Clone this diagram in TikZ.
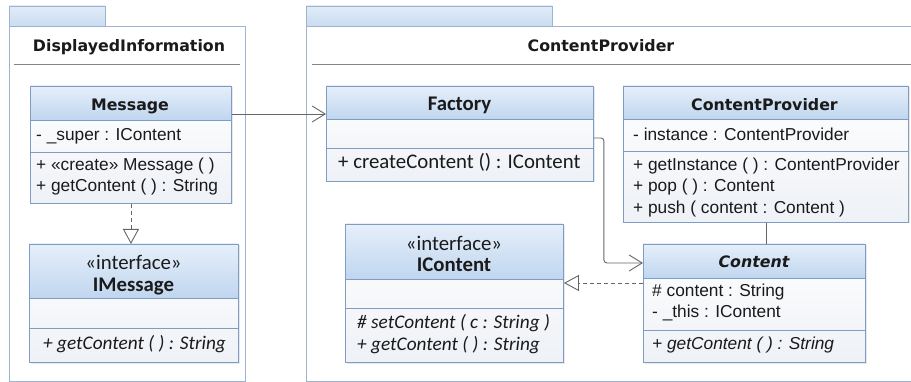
\documentclass[tikz,border=0pt]{standalone}
\usepackage{fontspec}
\setmainfont{Liberation Sans}
\newfontfamily\djv{DejaVu Sans}
\newfontfamily\cbr{Carlito}
\usetikzlibrary{arrows.meta,shadows,calc}
\definecolor{bordc}{HTML}{7F9DC4}
\definecolor{hdtop}{HTML}{E6EFFA}
\definecolor{hdbot}{HTML}{C0D6EF}
\definecolor{bodybot}{HTML}{EEF1F6}
\definecolor{pkbord}{HTML}{9DB3CF}
\definecolor{pktop}{HTML}{E2ECF8}
\definecolor{pkbot}{HTML}{C9DCF1}
\definecolor{linec}{HTML}{666666}
\definecolor{txtc}{HTML}{1A1A1A}
\tikzset{
  bodyfill/.style={top color=white, bottom color=bodybot, drop shadow={opacity=0.18,shadow xshift=1.5pt,shadow yshift=-1.5pt}},
  hdr/.style={top color=hdtop, bottom color=hdbot},
  sepline/.style={draw=bordc, line width=0.9pt},
  clsframe/.style={draw=bordc, line width=0.9pt, inner sep=0pt, fill=none},
  pkframe/.style={draw=pkbord, line width=0.9pt, fill=white},
  pktab/.style={draw=pkbord, line width=0.9pt, top color=pktop, bottom color=pkbot},
  pksep/.style={draw=linec!80, line width=0.8pt},
  ar/.style={inner sep=0pt, text height=0.7em, text depth=0pt, text=txtc, font=\fontsize{17.3}{20}\selectfont},
  ari/.style={ar, font=\fontsize{17.3}{20}\selectfont\itshape},
  bnm/.style={inner sep=0pt, text height=0.72em, text depth=0pt, text=txtc, font=\djv\bfseries\fontsize{15.8}{18}\selectfont},
  bnmi/.style={bnm, font=\djv\bfseries\itshape\fontsize{15.8}{18}\selectfont},
  cb/.style={inner sep=0pt, text height=0.64em, text depth=0pt, text=txtc, font=\cbr\fontsize{20.8}{24}\selectfont},
  cbb/.style={cb, font=\cbr\bfseries\fontsize{20.8}{24}\selectfont},
  cbi/.style={cb, font=\cbr\itshape\fontsize{19.3}{22}\selectfont},
  assoc/.style={draw=linec, line width=0.9pt, -{Straight Barb[length=13pt,width=16pt,line width=0.9pt]}},
  realz/.style={draw=linec, line width=0.9pt, dash pattern=on 4pt off 3pt, -{Triangle[open,length=15pt,width=16pt,fill=white,line width=0.9pt]}},
  plainl/.style={draw=linec, line width=0.9pt}
}
\begin{document}
\begin{tikzpicture}[x=1pt,y=-1pt]
\useasboundingbox (0,0) rectangle (911,382);
\fill[white] (0,0) rectangle (911,382);

% ---------- package DisplayedInformation
\path[pktab] (9,6) rectangle (105,26);
\node[pkframe, minimum width=236pt, minimum height=355pt, anchor=north west] (pkA) at (9,26) {};
\node[bnm] (pkAt) at (129,48) {DisplayedInformation};
\draw[pksep] (14,64) -- (240,64);

% ---------- package ContentProvider
\path[pktab] (306,6) rectangle (552,26);
\node[pkframe, minimum width=610pt, minimum height=355pt, anchor=north west] (pkB) at (306,26) {};
\node[bnm] (pkBt) at (601,48) {ContentProvider};
\draw[pksep] (312,64) -- (916,64);

% ---------- Message
\path[bodyfill] (30,86) rectangle (231,203);
\path[hdr] (30,86) rectangle (231,120);
\draw[sepline] (30,120) -- (231,120);
\draw[sepline] (30,152) -- (231,152);
\node[clsframe, minimum width=201pt, minimum height=117pt, anchor=north west] (msg) at (30,86) {};
\node[bnm] (msgt) at (130,107) {Message};
\node[ar, anchor=west] (msga) at (36,137) {- \_super : IContent};
\node[ar, anchor=west] (msgm1) at (36,167) {+ «create» Message ( )};
\node[ar, anchor=west] (msgm2) at (36,188) {+ getContent ( ) : String};

% ---------- IMessage
\path[bodyfill] (29,244) rectangle (238,362);
\path[hdr] (29,244) rectangle (238,298);
\draw[sepline] (29,298) -- (238,298);
\draw[sepline] (29,328) -- (238,328);
\node[clsframe, minimum width=209pt, minimum height=118pt, anchor=north west] (imsg) at (29,244) {};
\node[cb] (imsgs) at (133.5,266) {«interface»};
\node[cbb] (imsgt) at (133.5,288) {IMessage};
\node[cbi, anchor=west] (imsgm) at (43,346) {+ getContent ( ) : String};

% ---------- Factory
\path[bodyfill] (326,86) rectangle (593,181);
\path[hdr] (326,86) rectangle (593,119);
\draw[sepline] (326,119) -- (593,119);
\draw[sepline] (326,148) -- (593,148);
\node[clsframe, minimum width=267pt, minimum height=95pt, anchor=north west] (fac) at (326,86) {};
\node[cbb] (fact) at (459.5,107) {Factory};
\node[cb, anchor=west] (facm) at (338,165) {+ createContent () : IContent};

% ---------- ContentProvider class
\path[bodyfill] (623,86) rectangle (908,222);
\path[hdr] (623,86) rectangle (908,119);
\draw[sepline] (623,119) -- (908,119);
\draw[sepline] (623,151) -- (908,151);
\node[clsframe, minimum width=285pt, minimum height=136pt, anchor=north west] (cp) at (623,86) {};
\node[bnm] (cpt) at (764.5,107) {ContentProvider};
\node[ar, anchor=west] (cpa) at (633,137) {- instance : ContentProvider};
\node[ar, anchor=west] (cpm1) at (633,167) {+ getInstance ( ) : ContentProvider};
\node[ar, anchor=west] (cpm2) at (633,188) {+ pop ( ) : Content};
\node[ar, anchor=west] (cpm3) at (633,210) {+ push ( content : Content )};

% ---------- IContent
\path[bodyfill] (345,224) rectangle (563,362);
\path[hdr] (345,224) rectangle (563,279);
\draw[sepline] (345,279) -- (563,279);
\draw[sepline] (345,308) -- (563,308);
\node[clsframe, minimum width=218pt, minimum height=138pt, anchor=north west] (icont) at (345,224) {};
\node[cb] (iconts) at (454,247) {«interface»};
\node[cbb] (icontt) at (454,268) {IContent};
\node[cbi, anchor=west] (icontm1) at (357,325) {\# setContent ( c : String )};
\node[cbi, anchor=west] (icontm2) at (357,347) {+ getContent ( ) : String};

% ---------- Content
\path[bodyfill] (643,244) rectangle (865,362);
\path[hdr] (643,244) rectangle (865,278);
\draw[sepline] (643,278) -- (865,278);
\draw[sepline] (643,330) -- (865,330);
\node[clsframe, minimum width=222pt, minimum height=118pt, anchor=north west] (cont) at (643,244) {};
\node[bnmi] (contt) at (754,264) {Content};
\node[ar, anchor=west] (conta1) at (652,293) {\# content : String};
\node[ar, anchor=west] (conta2) at (652,314) {- \_this : IContent};
\node[ari, anchor=west] (contm) at (652,346) {+ getContent ( ) : String};

% ---------- connectors
\draw[assoc] ($(msg.north east)+(0,28)$) -- ($(fac.north west)+(0,28)$);
\draw[realz] (msg.south) -- (msg.south |- imsg.north);
\draw[assoc, rounded corners=3pt] ($(fac.north east)+(0,52)$) -- ++(10,0) |- ($(cont.north west)+(0,19)$);
\draw[plainl] (cp.south) -- (cp.south |- cont.north);
\draw[realz] ($(cont.north west)+(0,39)$) -- ($(icont.north east)+(0,59)$);
\end{tikzpicture}
\end{document}
